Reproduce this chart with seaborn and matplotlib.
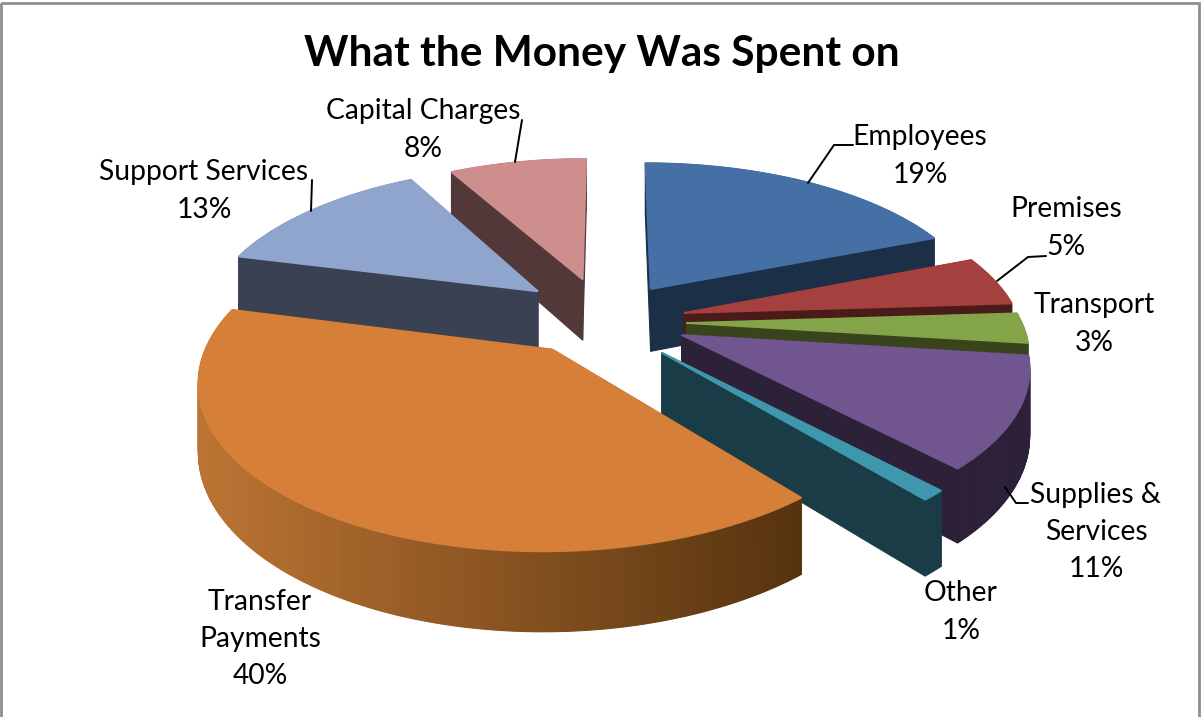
import numpy as np
import seaborn as sns
import matplotlib
matplotlib.use("Agg")
import matplotlib.pyplot as plt
from matplotlib.patches import Polygon, Rectangle
from matplotlib.path import Path

# ---- data ----
categories = ["Employees", "Premises", "Transport", "Supplies &\nServices", "Other",
              "Transfer\nPayments", "Support Services", "Capital Charges"]
values = [19, 5, 3, 11, 1, 40, 13, 8]
title = "What the Money Was Spent on"

# ---- styles ----
top_colors = ["#4470A5", "#A4403D", "#84A44A", "#71558F", "#3F97AE", "#D67F39", "#90A5CE", "#CE8E8E"]
side_left = ["#1B2F47", "#4A1B18", "#39431C", "#2C2138", "#1A3C47", "#BC7433", "#3A4152", "#523838"]
side_right = ["#1B2F47", "#4A1B18", "#39431C", "#2C2138", "#1A3C47", "#55330F", "#3A4152", "#523838"]
explode = [0.20, 0.21, 0.21, 0.21, 0.24, 0.24, 0.30, 0.32]
nudge = [(-1, -8), (1, -2), (1, 0), (3, -2), (-8, 2), (-18, -5), (0, -3), (-7, 3)]
draw_order = [7, 0, 6, 1, 2, 3, 4, 5]
label_xy = [(920, 156), (1066, 228), (1094, 324), (1096, 532), (961, 612), (260, 639), (204, 191), (423, 130)]
leaders = [[(853, 145), (834, 145), (808, 183)],
           [(1046, 256), (1028, 257), (997, 281)],
           [(1028, 503), (1016, 503), (1005, 487)],
           [(522, 120), (515, 162)],
           [(312, 180), (311, 211)]]

CX, CY, RX, RY, DEPTH, PERSP = 615, 322, 335, 155, 64, 0.17


def project(u, v, z=0.0):
    s = 1.0 / (1.0 + PERSP * np.asarray(v))
    return CX + RX * np.asarray(u) * s, CY - RY * np.asarray(v) * s + DEPTH * z * s


sns.set_theme(style="white")
plt.rcParams["font.family"] = ["Lato", "DejaVu Sans"]

fig, ax = plt.subplots(figsize=(12.02, 7.17), dpi=100)
fig.subplots_adjust(0, 0, 1, 1)
wedges, _ = ax.pie(values, explode=explode, startangle=90, counterclock=False, colors=top_colors, radius=1)
ax.set_aspect("auto")
ax.set_xlim(0, 1202)
ax.set_ylim(717, 0)
ax.axis("off")

for rank, i in enumerate(draw_order):
    w = wedges[i]
    u0, v0 = w.center
    ndx, ndy = nudge[i]
    th = np.radians(np.linspace(w.theta1, w.theta2, max(3, int((w.theta2 - w.theta1) / 0.5))))
    ru, rv = u0 + np.cos(th), v0 + np.sin(th)

    faces = []
    x_t, y_t = project(ru, rv, 0)
    x_b, y_b = project(ru, rv, 1)
    x_t, y_t, x_b, y_b = x_t + ndx, y_t + ndy, x_b + ndx, y_b + ndy
    a = project(u0, v0, 0)
    b = project(u0, v0, 1)
    ax_t = (a[0] + ndx, a[1] + ndy)
    ax_b = (b[0] + ndx, b[1] + ndy)
    pal = sns.blend_palette([side_left[i], side_right[i]], 256)
    xmin, xmax = x_t.min(), x_t.max()
    for j in range(len(th) - 1):
        f = int(255 * ((x_t[j] + x_t[j + 1]) / 2 - xmin) / max(xmax - xmin, 1))
        pts = [(x_t[j], y_t[j]), (x_t[j + 1], y_t[j + 1]), (x_b[j + 1], y_b[j + 1]), (x_b[j], y_b[j])]
        faces.append(((rv[j] + rv[j + 1]) / 2, pts, pal[f]))
    for k in (0, -1):
        pts = [ax_t, (x_t[k], y_t[k]), (x_b[k], y_b[k]), ax_b]
        faces.append(((v0 + rv[k]) / 2, pts, side_right[i]))
    faces.sort(key=lambda q: -q[0])
    for n, (_, pts, col) in enumerate(faces):
        ax.add_patch(Polygon(pts, closed=True, facecolor=col, edgecolor=col, linewidth=0.8,
                             zorder=10 + rank * 2 + n * 1e-3))

    x_f, y_f = project(np.r_[u0, ru, u0], np.r_[v0, rv, v0], 0)
    w._path = Path(np.column_stack([x_f + ndx, y_f + ndy]), closed=False)
    w.set_facecolor(top_colors[i])
    w.set_edgecolor(top_colors[i])
    w.set_linewidth(1.3)
    w.set_zorder(11 + rank * 2)

for cat, val, (lx, ly) in zip(categories, values, label_xy):
    ax.text(lx, ly, f"{cat}\n{val}%", ha="center", va="center", fontsize=20.3, color="black",
            linespacing=1.54, zorder=40)
for pts in leaders:
    ax.plot(*zip(*pts), color="black", lw=1.4, zorder=39)

ax.text(602, 54, title, ha="center", va="center", fontsize=30.5, fontweight="bold", color="black", zorder=40)
ax.add_patch(Rectangle((1, 3), 1198, 730, fill=False, edgecolor="#8E8E8E", linewidth=2, zorder=50))

fig.savefig("out.png", dpi=100, facecolor="white")
